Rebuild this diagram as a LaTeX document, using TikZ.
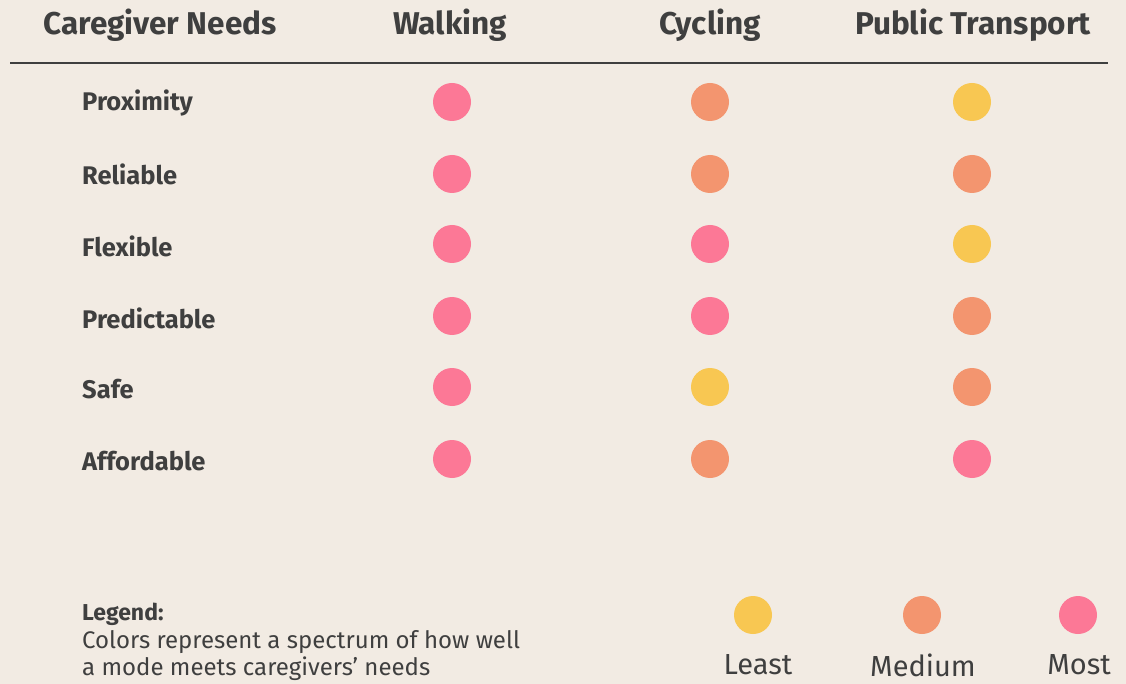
\documentclass[tikz,border=0pt]{standalone}
\usepackage{fontspec}
\setmainfont{Fira Sans}
\usetikzlibrary{positioning}
\definecolor{bgcol}{HTML}{F2EBE3}
\definecolor{txtcol}{HTML}{3F3F3F}
\definecolor{most}{HTML}{FC7896}
\definecolor{medium}{HTML}{F3956F}
\definecolor{least}{HTML}{F8C752}
\begin{document}
\begin{tikzpicture}[x=1pt,y=-1pt,
    head/.style={font=\bfseries\fontsize{31.5}{34}\selectfont,text=txtcol},
    need/.style={anchor=west,inner sep=0pt,font=\bfseries\fontsize{25.5}{28}\selectfont,text=txtcol},
    dot/.style={circle,minimum size=38pt,inner sep=0pt},
    key/.style={font=\fontsize{29}{32}\selectfont,text=txtcol}]
    \fill[bgcol] (0,0) rectangle (1126,684);
    \useasboundingbox (0,0) rectangle (1126,684);
    % column headings
    \node[head] (hneeds) at (160,25) {Caregiver Needs};
    \node[head] (hwalk) at (450,25) {Walking};
    \node[head] (hcycle) at (710,25) {Cycling};
    \node[head] (hpublic) at (973,25) {Public Transport};
    \draw[txtcol,line width=2.5pt] (10,63) -- (1108,63);
    % needs
    \node[need] (nprox) at (82,103) {Proximity};
    \node[need] (nrel) at (82,174) {Reliable};
    \node[need] (nflex) at (82,246) {Flexible};
    \node[need] (npred) at (82,318) {Predictable};
    \node[need] (nsafe) at (82,389) {Safe};
    \node[need] (naff) at (82,461) {Affordable};
    % walking
    \node[dot,fill=most] (w1) at (452,102) {};
    \node[dot,fill=most] (w2) at (452,174) {};
    \node[dot,fill=most] (w3) at (452,244) {};
    \node[dot,fill=most] (w4) at (452,316) {};
    \node[dot,fill=most] (w5) at (452,387) {};
    \node[dot,fill=most] (w6) at (452,459) {};
    % cycling
    \node[dot,fill=medium] (c1) at (710,102) {};
    \node[dot,fill=medium] (c2) at (710,174) {};
    \node[dot,fill=most] (c3) at (710,244) {};
    \node[dot,fill=most] (c4) at (710,316) {};
    \node[dot,fill=least] (c5) at (710,387) {};
    \node[dot,fill=medium] (c6) at (710,459) {};
    % public transport
    \node[dot,fill=least] (p1) at (972,102) {};
    \node[dot,fill=medium] (p2) at (972,174) {};
    \node[dot,fill=least] (p3) at (972,244) {};
    \node[dot,fill=medium] (p4) at (972,316) {};
    \node[dot,fill=medium] (p5) at (972,387) {};
    \node[dot,fill=most] (p6) at (972,459) {};
    % legend
    \node[anchor=west,inner sep=0pt,text=txtcol,font=\bfseries\fontsize{23}{26}\selectfont] (legend) at (82,614) {Legend:};
    \node[anchor=north west,align=left,text=txtcol,font=\fontsize{24}{27}\selectfont,inner sep=0pt] (legtext) at (82,630) {Colors represent a spectrum of how well\\a mode meets caregivers’ needs};
    \node[dot,fill=least] (kleast) at (753,615) {};
    \node[dot,fill=medium] (kmedium) at (922,615) {};
    \node[dot,fill=most] (kmost) at (1078,615) {};
    \node[key] (lleast) at (758,665) {Least};
    \node[key] (lmedium) at (923,665) {Medium};
    \node[key] (lmost) at (1079,665) {Most};
\end{tikzpicture}
\end{document}
